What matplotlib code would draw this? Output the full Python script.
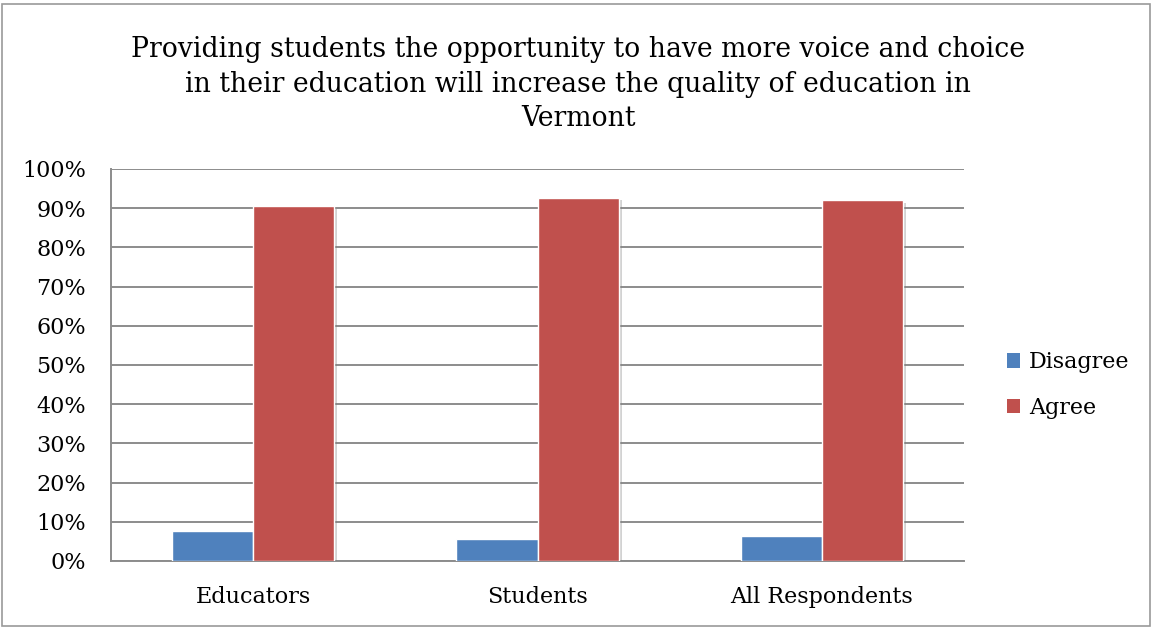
import numpy as np
import matplotlib.pyplot as plt
import matplotlib.patheffects as pe
from matplotlib.patches import Rectangle
from matplotlib.ticker import MultipleLocator, PercentFormatter

plt.rcParams['font.family'] = ['DejaVu Serif']

# Survey results (share of respondents, %)
groups = ['Educators', 'Students', 'All Respondents']
disagree = [7.7, 5.5, 6.3]
agree = [90.6, 92.7, 92.1]
series_names = ['Disagree', 'Agree']
colors = ['#4F81BD', '#C0504D']

title = ('Providing students the opportunity to have more voice and choice\n'
         'in their education will increase the quality of education in\n'
         'Vermont')

fig = plt.figure(figsize=(11.52, 6.27), dpi=100)
ax = fig.add_axes([0.0964, 0.1053, 0.7404, 0.6252])

x = np.arange(len(groups))
w = 1 / 3.5  # gap width 150%
shadow = [pe.SimplePatchShadow(offset=(2, -2), shadow_rgbFace='#808080', alpha=0.35),
          pe.Normal()]
for i, vals in enumerate([disagree, agree]):
    bars = ax.bar(x + (i - 0.5) * w, vals, width=w, color=colors[i],
                  edgecolor='white', linewidth=1.0, label=series_names[i], zorder=3)
    for b in bars:
        b.set_path_effects(shadow)

ax.set_xlim(-0.5, len(groups) - 0.5)
ax.set_ylim(0, 100)
ax.yaxis.set_major_locator(MultipleLocator(10))
ax.yaxis.set_major_formatter(PercentFormatter(decimals=0))
ax.set_xticks(x)
ax.set_xticklabels(groups)
ax.grid(axis='y', color='#8c8c8c', linewidth=1.4, zorder=0)
ax.tick_params(axis='y', length=0, pad=18, labelsize=16)
ax.tick_params(axis='x', length=0, pad=18, labelsize=16)

for side in ['top', 'right']:
    ax.spines[side].set_visible(False)
for side in ['left', 'bottom']:
    ax.spines[side].set_color('#8c8c8c')
    ax.spines[side].set_linewidth(1.4)

fig.text(0.502, 1 - 84 / 627, title, ha='center', va='center', fontsize=19.2,
         linespacing=1.36)

leg = ax.legend(loc='center left', bbox_to_anchor=(987 / 1152, (627 - 385) / 627),
                bbox_transform=fig.transFigure, frameon=False, fontsize=16,
                handlelength=0.6, handleheight=0.6, handletextpad=0.4,
                labelspacing=1.05)
for h in leg.legend_handles:
    h.set_path_effects([])
    h.set_edgecolor('none')

# light grey frame around the chart
fig.patches.append(Rectangle((0.002, 0.002), 0.996, 0.992, transform=fig.transFigure,
                             fill=False, edgecolor='#9a9a9a', linewidth=1.2))

fig.savefig('out.png', dpi=100)
